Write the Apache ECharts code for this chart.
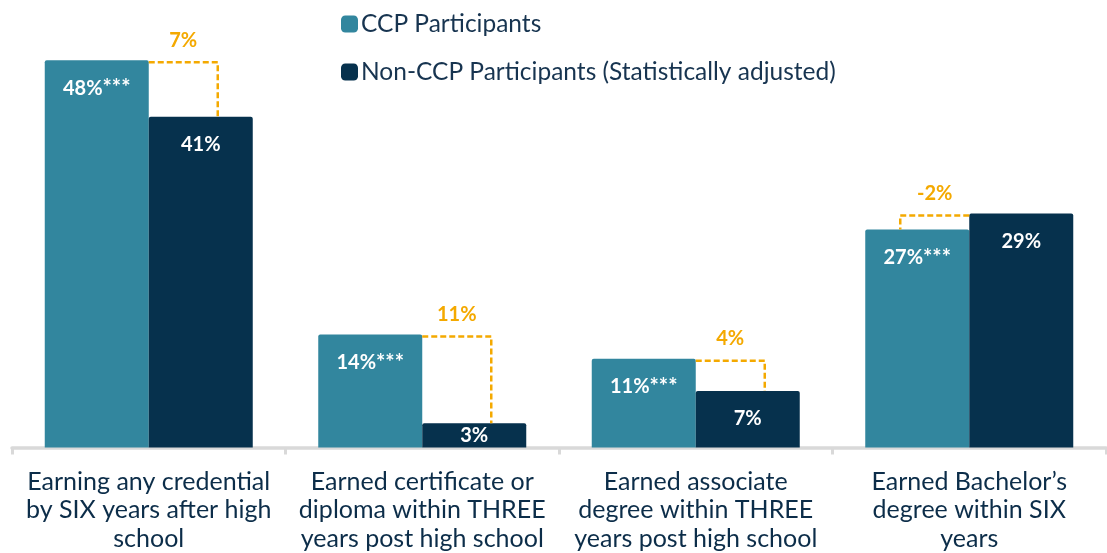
<!DOCTYPE html>
<html>
<head>
<meta charset="utf-8">
<script src="https://cdn.jsdelivr.net/npm/echarts@6/dist/echarts.min.js"></script>
<style>
  html, body { margin: 0; padding: 0; background: #fff; }
  #chart { width: 1107px; height: 553px; }
</style>
</head>
<body>
<div id="chart"></div>
<script>
const categories = [
  'Earning any credential\nby SIX years after high\nschool',
  'Earned certificate or\ndiploma within THREE\nyears post high school',
  'Earned associate\ndegree within THREE\nyears post high school',
  'Earned Bachelor\u2019s\ndegree within SIX\nyears',
];
const seriesNames = ['CCP Participants', 'Non-CCP Participants (Statistically adjusted)'];
const ccpValues = [48, 14, 11, 27];
const nonCcpValues = [41, 3, 7, 29];
const gapLabels = ['7%', '11%', '4%', '-2%'];

const TEAL = '#32869e';
const NAVY = '#06314d';
const ORANGE = '#f4a900';
const TEXT = '#0c2d49';
const FONT = 'Lato, "Noto Sans", sans-serif';

// dashed bracket from the taller bar down to the shorter one, with the gap label on top
function renderGap(params, api) {
  const i = api.value(0);
  const ccp = api.value(1);
  const non = api.value(2);
  const c = api.coord([i, 0])[0];
  const yCcp = api.coord([i, ccp])[1];
  const yNon = api.coord([i, non])[1];
  const up = ccp >= non;
  const yTop = Math.min(yCcp, yNon) + 2;
  const yLow = up ? yNon : yCcp;
  const x2 = up ? c + 69 : c - 69;
  return {
    type: 'group',
    children: [
      {
        type: 'polyline',
        shape: { points: [[c, yTop], [x2, yTop], [x2, yLow]] },
        style: { stroke: ORANGE, lineWidth: 2.5, lineDash: [6, 3], fill: 'none' },
      },
      {
        type: 'text',
        style: {
          text: gapLabels[params.dataIndex],
          x: (c + x2) / 2,
          y: yTop - 22,
          align: 'center',
          verticalAlign: 'middle',
          fill: ORANGE,
          fontSize: 20,
          fontWeight: 'bold',
          fontFamily: FONT,
        },
      },
    ],
  };
}

const chart = echarts.init(document.getElementById('chart'));
const barLabel = {
  show: true,
  position: 'insideTop',
  distance: 18,
  color: '#fff',
  fontSize: 20,
  fontWeight: 'bold',
  fontFamily: FONT,
  lineHeight: 20,
  rich: { s: { fontSize: 22, fontWeight: 'bold', color: '#fff', fontFamily: FONT, lineHeight: 20 } },
};

chart.setOption({
  animation: false,
  legend: {
    data: seriesNames,
    orient: 'vertical',
    left: 336,
    top: 6,
    itemWidth: 17,
    itemHeight: 17,
    itemGap: 22,
    icon: 'roundRect',
    textStyle: {
      fontSize: 24.5,
      color: '#173450',
      fontFamily: FONT,
      lineHeight: 26,
      padding: [0, 0, 0, -2],
    },
  },
  grid: { left: 12, right: 1, top: 44, bottom: 104 },
  xAxis: {
    type: 'category',
    data: categories,
    axisLine: { lineStyle: { color: '#d9d9d9', width: 3.5 } },
    axisTick: { show: true, length: 7, lineStyle: { color: '#d9d9d9', width: 3 } },
    axisLabel: {
      interval: 0,
      margin: 20,
      color: TEXT,
      fontSize: 25,
      lineHeight: 28.5,
      fontFamily: FONT,
    },
  },
  yAxis: { type: 'value', min: 0, max: 50, show: false, splitLine: { show: false } },
  series: [
    {
      name: seriesNames[0],
      type: 'bar',
      barWidth: 104,
      barGap: '0%',
      data: ccpValues,
      itemStyle: { color: TEAL, borderRadius: [2, 2, 0, 0] },
      label: { ...barLabel, formatter: '{c}%{s|***}' },
    },
    {
      name: seriesNames[1],
      type: 'bar',
      barWidth: 104,
      barGap: '0%',
      data: nonCcpValues.map((v) => (v < 5 ? { value: v, label: { position: 'inside' } } : v)),
      itemStyle: { color: NAVY, borderRadius: [2, 2, 0, 0] },
      label: { ...barLabel, formatter: '{c}%' },
    },
    {
      type: 'custom',
      renderItem: renderGap,
      data: ccpValues.map((v, i) => [i, v, nonCcpValues[i]]),
      encode: { x: 0, y: 1 },
      silent: true,
      z: 5,
    },
  ],
});
</script>
</body>
</html>
